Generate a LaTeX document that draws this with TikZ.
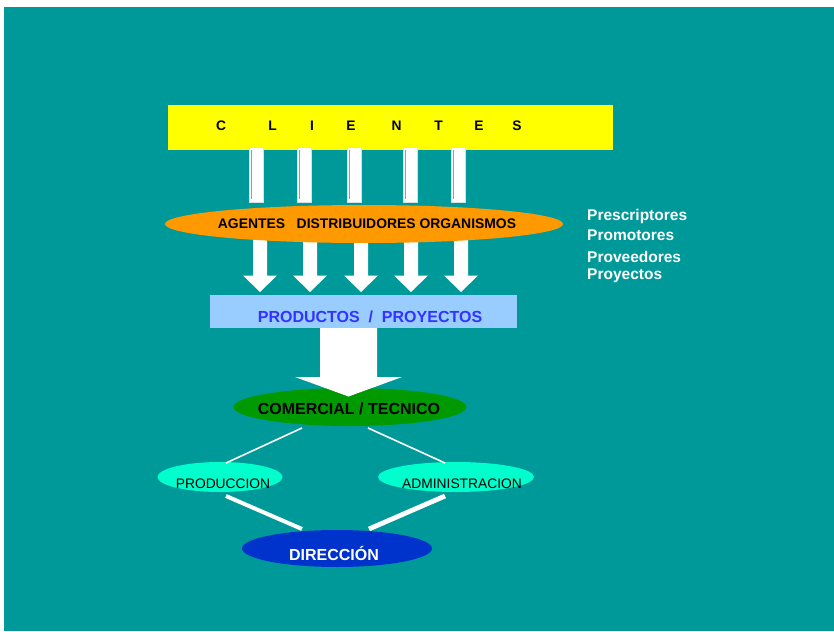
\documentclass[tikz,border=0pt]{standalone}
\usepackage{fontspec}
\setmainfont{Liberation Sans}
\usetikzlibrary{shapes.geometric}

\definecolor{bgteal}{RGB}{0,153,153}
\definecolor{clyellow}{RGB}{255,255,0}
\definecolor{agorange}{RGB}{255,153,0}
\definecolor{prodblue}{RGB}{153,204,255}
\definecolor{prodtext}{RGB}{51,51,255}
\definecolor{comgreen}{RGB}{0,153,0}
\definecolor{aqua}{RGB}{0,255,204}
\definecolor{dirblue}{RGB}{0,51,204}
\definecolor{baredge}{RGB}{215,225,225}
\definecolor{barline}{RGB}{120,170,170}

\newcommand{\fsz}[1]{\fontsize{#1}{#1}\selectfont}

\begin{document}
\begin{tikzpicture}[x=1pt,y=-1pt,
  blob/.style={ellipse, inner sep=0pt, draw=none},
  panel/.style={rectangle, inner sep=0pt, draw=none},
  shaft/.style={rectangle, inner sep=0pt, fill=white, draw=baredge, line width=0.7pt,
    minimum width=14pt, minimum height=55pt},
  txt/.style={anchor=base, inner sep=0pt},
  letter/.style={txt, font=\bfseries\fsz{13.8}},
  side/.style={anchor=base west, inner sep=0pt, text=white, font=\bfseries\fsz{15.5}},
  blockarrow/.style={fill=white},
  link/.style={draw=white, line width=1.6pt},
  thicklink/.style={draw=white, line width=4pt}]

\useasboundingbox (0,0) rectangle (834,631);
\fill[bgteal] (4,7) rectangle (834,631);

% top band
\node[panel, fill=clyellow, minimum width=445pt, minimum height=45pt] (clientes) at (390.5,127.5) {};
\foreach \x/\c in {221/C,272.5/L,312/I,351/E,396.5/N,438.5/T,479/E,517/S}
  \node[letter] at (\x,130.5) {\c};

% five white shafts under the band
\foreach \i/\x in {1/256,2/304,3/354,4/410,5/458} {
  \node[shaft] (bar\i) at (\x,174.5) {};
  \draw[barline, line width=0.6pt]
    ([xshift=2.6pt,yshift=-3pt]bar\i.north west) -- ([xshift=2.6pt,yshift=3pt]bar\i.south west);
}

% arrows from the channels down to products
\foreach \x in {260,310,361,411,461}
  \fill[blockarrow] (\x-7,236) -- (\x+7,236) -- (\x+7,275.5) -- (\x+17,275.5)
    -- (\x,292) -- (\x-17,275.5) -- (\x-7,275.5) -- cycle;

% channels
\node[blob, fill=agorange, minimum width=398pt, minimum height=38pt] (agentes) at (364,224) {};
\node[txt, font=\bfseries\fsz{13.9}] (agtxt) at (367,228) {AGENTES\ \ \ DISTRIBUIDORES ORGANISMOS};

% side list
\node[side] (presc) at (587,220) {Prescriptores};
\node[side] (promo) at (587,240) {Promotores};
\node[side] (prove) at (587,262) {Proveedores};
\node[side] (proye) at (587,279) {Proyectos};

% products
\node[panel, fill=prodblue, minimum width=307pt, minimum height=33pt] (productos) at (363.5,311.5) {};
\node[txt, text=prodtext, font=\bfseries\fsz{16}] (prtxt) at (370,322) {PRODUCTOS\ \ /\ \ PROYECTOS};

% commercial / technical
\node[blob, fill=comgreen, minimum width=233pt, minimum height=38pt] (comercial) at (350,407) {};
\node[txt, font=\bfseries\fsz{16}] (cmtxt) at (349,414) {COMERCIAL / TECNICO};

% big arrow from products to commercial
\fill[blockarrow] (320,328) -- (377,328) -- (377,377) -- (402,377) -- (348.5,396.5)
  -- (295,377) -- (320,377) -- cycle;

% lower level
\node[blob, fill=aqua, minimum width=125pt, minimum height=30pt] (produccion) at (220,477) {};
\node[txt, font=\fsz{13.8}] (pdtxt) at (223,488) {PRODUCCION};
\node[blob, fill=aqua, minimum width=156pt, minimum height=30pt] (admin) at (456,477) {};
\node[txt, font=\fsz{13.8}] (adtxt) at (462,488) {ADMINISTRACION};

\node[blob, fill=dirblue, minimum width=190pt, minimum height=37pt] (direccion) at (337,548.5) {};
\node[txt, text=white, font=\bfseries\fsz{16}] (drtxt) at (334,560) {DIRECCIÓN};

% link end points
\coordinate (comL) at (302,428);
\coordinate (comR) at (368,428);
\coordinate (prodT) at (226,463);
\coordinate (admT) at (445,463);
\coordinate (prodB) at (226,496);
\coordinate (admB) at (445,496);
\coordinate (dirL) at (302,529);
\coordinate (dirR) at (369,529);

\draw[link] (comL) -- (prodT);
\draw[link] (comR) -- (admT);
\draw[thicklink] (prodB) -- (dirL);
\draw[thicklink, line width=4.8pt] (admB) -- (dirR);

\end{tikzpicture}
\end{document}
